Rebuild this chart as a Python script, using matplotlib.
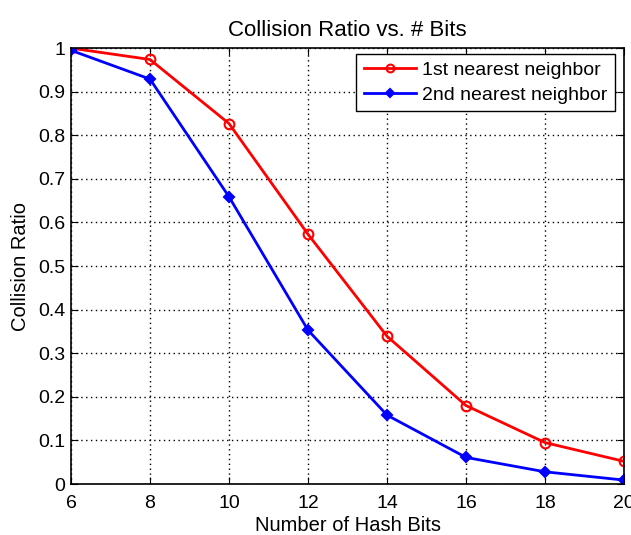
import numpy as np
import matplotlib.pyplot as plt

plt.rcParams['font.family'] = ['Liberation Sans', 'DejaVu Sans']

# dados
bits = [6, 8, 10, 12, 14, 16, 18, 20]
vizinho1 = [1.0, 0.974, 0.827, 0.573, 0.339, 0.180, 0.095, 0.052]
vizinho2 = [0.995, 0.929, 0.659, 0.353, 0.158, 0.061, 0.028, 0.009]

fig = plt.figure(figsize=(6.31, 5.35), dpi=100)
ax = fig.add_axes([0.1125, 0.0953, 0.8765, 0.8147])

ax.plot(bits, vizinho1, color='red', lw=2, marker='o', ms=7, mfc='none', mew=1.5,
        label='1st nearest neighbor')
ax.plot(bits, vizinho2, color='blue', lw=2, marker='D', ms=5, mfc='blue', mew=1.5,
        label='2nd nearest neighbor')

ax.set_xlim(6, 20)
ax.set_ylim(0, 1)
ax.set_xticks(np.arange(6, 21, 2))
ax.set_yticks(np.arange(0, 1.01, 0.1))
ax.set_yticklabels(['0', '0.1', '0.2', '0.3', '0.4', '0.5', '0.6', '0.7', '0.8', '0.9', '1'])
ax.grid(True, color='black', linestyle=(0, (1, 2.5)), lw=1)
ax.tick_params(direction='in', top=True, right=True, labelsize=14, length=5)
ax.tick_params(axis='x', pad=8)
ax.tick_params(axis='y', pad=4)
for s in ax.spines.values():
    s.set_linewidth(1.2)

ax.set_title('Collision Ratio vs. # Bits', fontsize=16, pad=9)
ax.set_xlabel('Number of Hash Bits', fontsize=14.5, labelpad=3)
ax.set_ylabel('Collision Ratio', fontsize=14.5, labelpad=6)
ax.legend(loc='upper right', bbox_to_anchor=(0.984, 0.987), fontsize=14,
          fancybox=False, edgecolor='black', framealpha=1, handlelength=2.7,
          borderaxespad=0, borderpad=0.4, labelspacing=0.35, handletextpad=0.3,
          markerscale=0.8)

fig.savefig('out.png')
plt.close()
